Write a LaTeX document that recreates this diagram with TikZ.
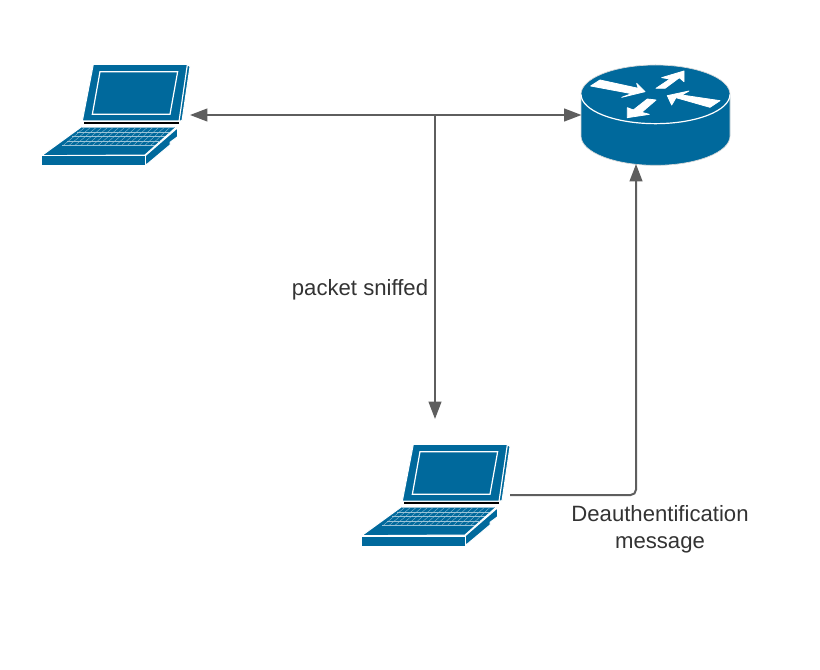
\documentclass[tikz,border=0pt]{standalone}
\usepackage{fontspec}
\setmainfont{Liberation Sans}
\usetikzlibrary{arrows.meta}
\definecolor{netblue}{HTML}{00699C}
\definecolor{linkgray}{HTML}{5E5E5E}
\definecolor{labelgray}{HTML}{333333}
\begin{document}
\begin{tikzpicture}[
    x=0.75pt, y=-0.75pt,
    device/.style={minimum width=111.75pt, minimum height=76.5pt, inner sep=0pt, outer sep=0pt},
    link/.style={draw=linkgray, line width=1.5pt, arrows={-Triangle[length=13pt, width=9.5pt]}},
    label/.style={font=\fontsize{16.6}{20}\selectfont, text=labelgray, align=center, inner sep=0pt},
    shell/.style={fill=netblue, draw=white, line width=0.75pt, line join=round},
    flow/.style={fill=white, draw=white, line width=0.6pt, line join=round},
    laptop/.pic={
        \begin{scope}[scale=1/3]
        % Lid
        \draw[shell] (472,28) -- (480,35) -- (456,197) -- (447,198) -- cycle;
        \draw[shell] (190,28) -- (472,28) -- (447,198) -- (157,198) -- cycle;
        \draw[white, line width=0.9pt] (210,50) -- (443,50) -- (420,178) -- (187,178) -- cycle;
        % Base
        \draw[shell] (345,303) -- (443,218) -- (443,245) -- (420,262) -- (420,270) -- (347,331) -- cycle;
        \draw[shell] (155,215) -- (440,215) -- (345,300) -- (35,302) -- cycle;
        \draw[shell] (35,303) rectangle (345,333);
        \draw[black, line width=1.3pt] (163,204) -- (447,204);
        % Keyboard
        \foreach \k in {0,...,4} {
            \draw[white!60!netblue, line width=0.25pt] (157-15*\k,217+13.5*\k) -- (432-14*\k,217+13.5*\k);
        }
        \foreach \k in {0,...,15} {
            \draw[white!60!netblue, line width=0.25pt] (165+17*\k,217) -- (100+17.5*\k,271);
        }
        \end{scope}
    }
]

% Margins
\useasboundingbox (0,0) rectangle (820,670);

% Laptops
\pic at (30,55) {laptop};
\pic at (350,435) {laptop};

% Router
\begin{scope}[shift={(570,55)}, scale=1/3]
\fill[netblue, draw=white!85!black, line width=0.5pt] (33,118) -- (33,243) arc[start angle=180, end angle=360, x radius=223.5, y radius=-88] -- (480,118) arc[start angle=0, end angle=180, x radius=223.5, y radius=-88] -- cycle;
\draw[white, line width=0.9pt] (33,118) arc[start angle=180, end angle=360, x radius=223.5, y radius=-88];
\draw[flow] (62,93) -- (90,75) -- (205,100) -- (200,85) -- (225,110) -- (155,127) -- (185,116) -- cycle;
\draw[flow] (258,100) -- (300,72) -- (275,68) -- (342,48) -- (342,80) -- (328,68) -- (285,100) -- cycle;
\draw[flow] (450,137) -- (420,157) -- (318,128) -- (305,150) -- (292,122) -- (357,108) -- (335,120) -- cycle;
\draw[flow] (258,135) -- (215,172) -- (238,178) -- (172,188) -- (172,158) -- (190,165) -- (232,132) -- cycle;
\end{scope}

% Anchors for the links
\node[device] (client) at (115.5,115) {};
\node[device] (sniffer) at (435.5,495) {};
\node[device] (router) at (656,115) {};
\coordinate (tap) at (435,115);
\coordinate (sniffin) at (435,419);
\coordinate (routerin) at (636,164);

% Links
\draw[link, arrows={Triangle[length=13pt, width=9.5pt]-Triangle[length=13pt, width=9.5pt]}] (client.east) -- (router.west);
\draw[link] (tap) -- (sniffin);
\draw[link, rounded corners=4pt] (sniffer.east) -| (routerin);

% Labels
\node[label] (sniffed) at (360,290) {packet sniffed};
\node[label] (deauth) at (660,529) {Deauthentification\\message};

\end{tikzpicture}
\end{document}
